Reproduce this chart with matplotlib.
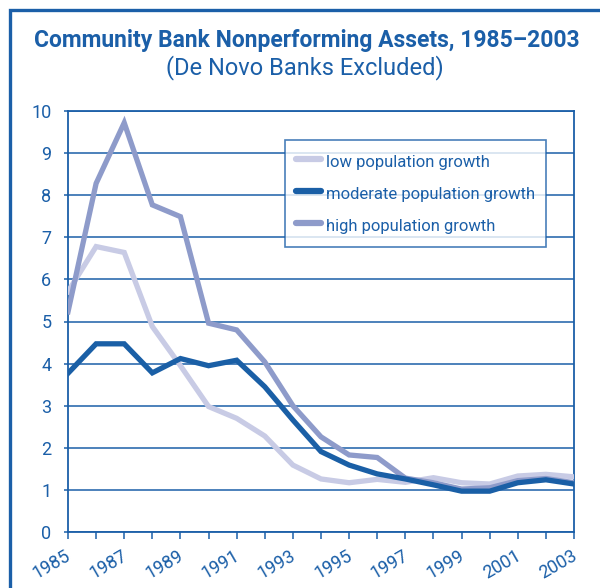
import matplotlib
matplotlib.use("Agg")
import matplotlib.pyplot as plt
import matplotlib.transforms as mtransforms
from matplotlib.patches import Rectangle

years = list(range(1985, 2004))
low_growth = [5.71, 6.78, 6.64, 4.88, 3.95, 2.98, 2.70, 2.28, 1.59, 1.26, 1.17,
              1.25, 1.18, 1.29, 1.17, 1.14, 1.33, 1.37, 1.31]
moderate_growth = [3.77, 4.47, 4.47, 3.78, 4.12, 3.95, 4.08, 3.45, 2.66, 1.91, 1.59,
                   1.38, 1.26, 1.12, 0.97, 0.97, 1.17, 1.24, 1.14]
high_growth = [5.23, 8.28, 9.72, 7.77, 7.49, 4.96, 4.80, 4.04, 3.00, 2.26, 1.83,
               1.77, 1.28, 1.17, 1.02, 1.05, 1.22, 1.27, 1.17]
series_labels = ["low population growth", "moderate population growth",
                 "high population growth"]
xtick_years = list(range(1985, 2004, 2))
yticks = list(range(0, 11))

BLUE = "#1b5fa8"
C_LOW = "#c8cbe5"
C_MOD = "#1a5fa6"
C_HIGH = "#8e9bca"

plt.rcParams['font.family'] = ['Roboto', 'DejaVu Sans']

fig = plt.figure(figsize=(6.0, 5.88), dpi=100)
fig.patch.set_facecolor("white")

# outer frame (left/top visible)
fig.patches.append(Rectangle((10/600, -0.05), 1.2, 1 - 10/588 + 0.05,
                             transform=fig.transFigure, fill=False,
                             edgecolor=BLUE, linewidth=2.4, zorder=0))

ax = fig.add_axes([68/600, 1 - 532/588, (574 - 68)/600, (532 - 111)/588])

l_low, = ax.plot(years, low_growth, color=C_LOW, lw=3.8, zorder=3,
                 solid_joinstyle='miter')
l_high, = ax.plot(years, high_growth, color=C_HIGH, lw=3.8, zorder=4,
                  solid_joinstyle='miter')
l_mod, = ax.plot(years, moderate_growth, color=C_MOD, lw=3.8, zorder=5,
                 solid_joinstyle='miter')

ax.set_xlim(1985, 2003)
ax.set_ylim(0, 10)
ax.set_yticks(yticks)
ax.set_xticks(years)
ax.set_xticklabels([str(y) if y in xtick_years else "" for y in years])
ax.grid(axis='y', color=BLUE, lw=1.1, zorder=1)
ax.set_axisbelow(True)
for s in ax.spines.values():
    s.set_color(BLUE)
    s.set_linewidth(1.3)

ax.tick_params(axis='y', colors=BLUE, labelsize=13, length=3, width=1.1, pad=9)
ax.tick_params(axis='x', colors=BLUE, labelsize=13, length=5, width=1.1, pad=4)
offset = mtransforms.ScaledTranslation(6/100, -2/100, fig.dpi_scale_trans)
for lab in ax.get_xticklabels():
    lab.set_rotation(30)
    lab.set_ha('right')
    lab.set_transform(lab.get_transform() + offset)

leg = ax.legend([l_low, l_mod, l_high], series_labels,
                loc='upper left', bbox_to_anchor=((285 - 68)/506, (532 - 140)/421),
                frameon=True, fancybox=False, fontsize=12, handlelength=1.45,
                handleheight=1.5, handletextpad=0.32, labelspacing=0.7,
                borderpad=0.68, borderaxespad=0, labelcolor=BLUE)
leg.get_frame().set_edgecolor(BLUE)
leg.get_frame().set_linewidth(1.2)
leg.set_zorder(10)
for h in leg.get_lines():
    h.set_linewidth(4.5)
    h.set_solid_capstyle('round')

fig.text(0.512, 1 - 47/588, "Community Bank Nonperforming Assets, 1985\u20132003",
         ha='center', va='baseline', color=BLUE, fontsize=16.5, fontweight='bold')
fig.text(0.508, 1 - 74/588, "(De Novo Banks Excluded)",
         ha='center', va='baseline', color=BLUE, fontsize=17)

fig.savefig("out.png", dpi=100, facecolor="white")
